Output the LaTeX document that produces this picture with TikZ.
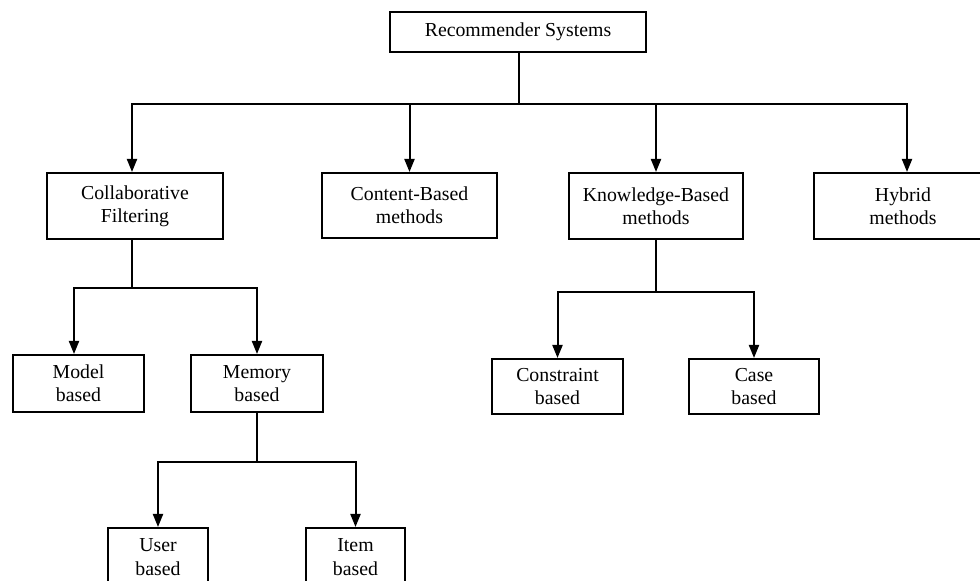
\documentclass[tikz,border=0pt]{standalone}
\usepackage{fontspec}
\setmainfont{Liberation Serif}
\usetikzlibrary{arrows.meta}
\newcommand{\boxfont}{\fontsize{9.9}{11.65}\selectfont}
\begin{document}
\begin{tikzpicture}[x=0.5pt,y=-0.5pt,
  box/.style={draw, line width=1pt, align=center, inner sep=0pt, font=\boxfont},
  conn/.style={line width=1pt},
  arr/.style={conn, -{Triangle[width=5pt,length=6.5pt]}}]
  \useasboundingbox (0,0) rectangle (980,581);
  \clip (0,0) rectangle (980,581);

  % root
  \node[box, minimum width=128pt, minimum height=20pt] (top) at (518,32) {Recommender Systems};

  % main families
  \node[box, minimum width=88pt, minimum height=33pt] (cf) at (135,206) {Collaborative\\Filtering};
  \node[box, minimum width=87.5pt, minimum height=32.5pt] (cb) at (409.5,205.5) {Content-Based\\methods};
  \node[box, minimum width=87pt, minimum height=33pt] (kb) at (656,206) {Knowledge-Based\\methods};
  \node[box, minimum width=89pt, minimum height=33pt] (hy) at (903,206) {Hybrid\\methods};

  % collaborative filtering branch
  \node[box, minimum width=65.5pt, minimum height=28.5pt] (model) at (78.5,383.5) {Model\\based};
  \node[box, minimum width=66pt, minimum height=28.5pt] (memory) at (257,383.5) {Memory\\based};
  \node[box, minimum width=50pt, minimum height=29pt] (user) at (158,557) {User\\based};
  \node[box, minimum width=49.5pt, minimum height=29pt] (item) at (355.5,557) {Item\\based};

  % knowledge-based branch
  \node[box, minimum width=65.5pt, minimum height=27.5pt] (constraint) at (557.5,386.5) {Constraint\\based};
  \node[box, minimum width=65pt, minimum height=27.5pt] (case) at (754,386.5) {Case\\based};

  % root to families
  \draw[conn] ([xshift=0.5pt]top.south) -- ++(0,51) coordinate (bus1);
  \draw[arr] (bus1) -| ([xshift=-1.5pt]cf.north);
  \draw[arr] (bus1) -| (cb.north);
  \draw[arr] (bus1) -| (kb.north);
  \draw[arr] (bus1) -| ([xshift=2pt]hy.north);

  % collaborative filtering to model / memory
  \draw[conn] ([xshift=-1.5pt]cf.south) -- ++(0,48) coordinate (bus2);
  \draw[arr] (bus2) -| ([xshift=-2.25pt]model.north);
  \draw[arr] (bus2) -| (memory.north);

  % memory to user / item
  \draw[conn] (memory.south) -- ++(0,49) coordinate (bus3);
  \draw[arr] (bus3) -| (user.north);
  \draw[arr] (bus3) -| (item.north);

  % knowledge-based to constraint / case
  \draw[conn] (kb.south) -- ++(0,52) coordinate (bus4);
  \draw[arr] (bus4) -| (constraint.north);
  \draw[arr] (bus4) -| (case.north);
\end{tikzpicture}
\end{document}
